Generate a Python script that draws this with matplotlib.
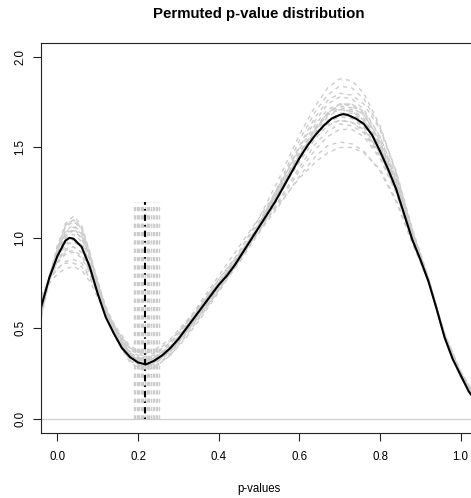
import matplotlib
matplotlib.use('Agg')
import matplotlib.pyplot as plt

plt.rcParams['font.family'] = ['Liberation Sans', 'DejaVu Sans']

# observed density of p-values
obs_x = [-0.04, -0.02, 0.00, 0.02, 0.03, 0.04, 0.06, 0.08, 0.10, 0.12, 0.14,
         0.16, 0.18, 0.20, 0.22, 0.24, 0.26, 0.28, 0.30, 0.32, 0.34,
         0.36, 0.38, 0.40, 0.42, 0.44, 0.46, 0.48, 0.50, 0.52, 0.54,
         0.56, 0.58, 0.60, 0.62, 0.64, 0.66, 0.68, 0.70, 0.71, 0.72, 0.74,
         0.76, 0.78, 0.80, 0.82, 0.84, 0.86, 0.88, 0.90, 0.92, 0.94,
         0.96, 0.98, 1.00, 1.02, 1.04]
observed = [0.62, 0.78, 0.90, 0.985, 1.00, 0.995, 0.95, 0.84, 0.69, 0.56, 0.47,
            0.39, 0.34, 0.31, 0.30, 0.32, 0.35, 0.39, 0.44, 0.50, 0.56,
            0.62, 0.68, 0.74, 0.79, 0.85, 0.92, 0.99, 1.06, 1.13, 1.20,
            1.28, 1.36, 1.44, 1.51, 1.57, 1.62, 1.66, 1.68, 1.685, 1.68, 1.66,
            1.63, 1.57, 1.48, 1.38, 1.27, 1.13, 0.99, 0.88, 0.76, 0.61,
            0.45, 0.33, 0.24, 0.15, 0.09]

# permuted densities
perm_x = [-0.04, -0.02, 0.00, 0.02, 0.04, 0.06, 0.08, 0.10, 0.12, 0.15,
          0.18, 0.21, 0.24, 0.28, 0.32, 0.36, 0.40, 0.45, 0.50, 0.55,
          0.60, 0.64, 0.67, 0.70, 0.73, 0.76, 0.80, 0.84, 0.88, 0.92,
          0.96, 1.00, 1.04]
permuted = [
    [0.58, 0.78, 0.95, 1.08, 1.12, 1.07, 0.92, 0.74, 0.58, 0.42, 0.31, 0.27, 0.28, 0.36, 0.48, 0.61, 0.75, 0.92, 1.11, 1.33, 1.57, 1.73, 1.83, 1.88, 1.87, 1.80, 1.62, 1.36, 1.04, 0.77, 0.45, 0.23, 0.08],
    [0.66, 0.75, 0.80, 0.83, 0.84, 0.82, 0.76, 0.67, 0.58, 0.47, 0.39, 0.36, 0.37, 0.43, 0.53, 0.64, 0.75, 0.88, 1.03, 1.18, 1.34, 1.45, 1.51, 1.53, 1.52, 1.48, 1.37, 1.20, 0.97, 0.76, 0.47, 0.26, 0.11],
    [0.57, 0.77, 0.93, 1.04, 1.07, 1.03, 0.90, 0.75, 0.60, 0.45, 0.33, 0.29, 0.30, 0.37, 0.48, 0.60, 0.72, 0.88, 1.06, 1.26, 1.47, 1.61, 1.69, 1.74, 1.74, 1.69, 1.53, 1.31, 1.02, 0.77, 0.46, 0.24, 0.09],
    [0.63, 0.77, 0.87, 0.93, 0.95, 0.92, 0.83, 0.71, 0.59, 0.46, 0.36, 0.33, 0.34, 0.40, 0.51, 0.63, 0.75, 0.90, 1.07, 1.25, 1.44, 1.57, 1.64, 1.67, 1.66, 1.61, 1.47, 1.26, 0.99, 0.76, 0.46, 0.25, 0.10],
    [0.59, 0.78, 0.94, 1.06, 1.09, 1.05, 0.91, 0.75, 0.59, 0.43, 0.32, 0.29, 0.31, 0.39, 0.51, 0.64, 0.77, 0.92, 1.09, 1.27, 1.46, 1.58, 1.65, 1.68, 1.67, 1.62, 1.47, 1.26, 0.99, 0.76, 0.45, 0.24, 0.09],
    [0.68, 0.77, 0.83, 0.87, 0.88, 0.86, 0.79, 0.70, 0.60, 0.49, 0.40, 0.37, 0.38, 0.44, 0.54, 0.64, 0.75, 0.89, 1.04, 1.20, 1.37, 1.49, 1.56, 1.60, 1.60, 1.56, 1.44, 1.25, 0.99, 0.77, 0.47, 0.26, 0.11],
    [0.61, 0.79, 0.92, 1.01, 1.04, 1.00, 0.88, 0.74, 0.60, 0.45, 0.34, 0.31, 0.31, 0.38, 0.49, 0.61, 0.73, 0.89, 1.07, 1.28, 1.50, 1.65, 1.74, 1.78, 1.77, 1.71, 1.56, 1.33, 1.02, 0.77, 0.45, 0.23, 0.09],
    [0.63, 0.78, 0.89, 0.96, 0.98, 0.95, 0.85, 0.72, 0.60, 0.46, 0.36, 0.33, 0.32, 0.38, 0.48, 0.59, 0.71, 0.86, 1.03, 1.23, 1.45, 1.60, 1.69, 1.74, 1.74, 1.70, 1.56, 1.34, 1.04, 0.78, 0.46, 0.24, 0.09],
    [0.56, 0.76, 0.94, 1.07, 1.10, 1.06, 0.92, 0.76, 0.60, 0.44, 0.32, 0.28, 0.28, 0.35, 0.46, 0.58, 0.71, 0.87, 1.05, 1.25, 1.46, 1.60, 1.68, 1.72, 1.71, 1.66, 1.52, 1.31, 1.01, 0.76, 0.45, 0.23, 0.09],
    [0.65, 0.77, 0.86, 0.91, 0.92, 0.89, 0.81, 0.70, 0.59, 0.47, 0.37, 0.34, 0.35, 0.42, 0.53, 0.65, 0.77, 0.91, 1.05, 1.19, 1.33, 1.42, 1.47, 1.50, 1.50, 1.47, 1.38, 1.21, 0.98, 0.76, 0.47, 0.26, 0.11],
    [0.60, 0.78, 0.91, 1.00, 1.02, 0.98, 0.86, 0.73, 0.59, 0.44, 0.34, 0.32, 0.33, 0.40, 0.51, 0.63, 0.75, 0.90, 1.07, 1.26, 1.45, 1.59, 1.67, 1.71, 1.70, 1.65, 1.51, 1.30, 1.01, 0.76, 0.45, 0.24, 0.09],
    [0.62, 0.78, 0.89, 0.97, 0.99, 0.96, 0.85, 0.72, 0.59, 0.45, 0.35, 0.32, 0.32, 0.39, 0.50, 0.62, 0.74, 0.90, 1.08, 1.29, 1.49, 1.63, 1.71, 1.74, 1.73, 1.68, 1.53, 1.31, 1.01, 0.77, 0.46, 0.24, 0.09],
    [0.67, 0.77, 0.83, 0.86, 0.86, 0.84, 0.78, 0.69, 0.59, 0.48, 0.38, 0.35, 0.34, 0.40, 0.50, 0.61, 0.73, 0.88, 1.05, 1.25, 1.44, 1.57, 1.65, 1.69, 1.69, 1.64, 1.51, 1.30, 1.01, 0.77, 0.46, 0.25, 0.10],
    [0.58, 0.78, 0.96, 1.07, 1.10, 1.05, 0.91, 0.75, 0.60, 0.44, 0.33, 0.30, 0.30, 0.38, 0.50, 0.62, 0.74, 0.88, 1.04, 1.21, 1.39, 1.52, 1.59, 1.63, 1.62, 1.58, 1.45, 1.25, 0.98, 0.76, 0.46, 0.25, 0.10],
    [0.63, 0.78, 0.89, 0.96, 0.98, 0.95, 0.85, 0.72, 0.60, 0.45, 0.35, 0.32, 0.31, 0.37, 0.47, 0.59, 0.72, 0.88, 1.07, 1.29, 1.51, 1.67, 1.76, 1.80, 1.79, 1.74, 1.60, 1.36, 1.04, 0.77, 0.45, 0.23, 0.09],
    [0.61, 0.79, 0.92, 1.02, 1.04, 1.00, 0.88, 0.74, 0.61, 0.46, 0.35, 0.32, 0.33, 0.41, 0.53, 0.66, 0.79, 0.95, 1.11, 1.28, 1.45, 1.57, 1.63, 1.65, 1.64, 1.59, 1.46, 1.26, 0.99, 0.76, 0.45, 0.24, 0.10],
    [0.64, 0.78, 0.88, 0.94, 0.95, 0.92, 0.83, 0.71, 0.59, 0.46, 0.36, 0.33, 0.33, 0.39, 0.49, 0.60, 0.72, 0.87, 1.05, 1.25, 1.46, 1.61, 1.69, 1.73, 1.72, 1.68, 1.54, 1.32, 1.02, 0.77, 0.45, 0.24, 0.10],
    [0.59, 0.77, 0.93, 1.03, 1.06, 1.02, 0.89, 0.74, 0.60, 0.45, 0.33, 0.30, 0.30, 0.37, 0.48, 0.60, 0.73, 0.89, 1.07, 1.27, 1.47, 1.61, 1.68, 1.71, 1.70, 1.65, 1.51, 1.29, 1.00, 0.76, 0.45, 0.24, 0.09],
    [0.60, 0.79, 0.93, 1.02, 1.05, 1.01, 0.90, 0.76, 0.62, 0.47, 0.35, 0.30, 0.29, 0.35, 0.45, 0.57, 0.70, 0.87, 1.07, 1.30, 1.54, 1.70, 1.79, 1.84, 1.83, 1.77, 1.61, 1.37, 1.05, 0.78, 0.46, 0.23, 0.09],
    [0.65, 0.78, 0.87, 0.92, 0.93, 0.90, 0.82, 0.71, 0.60, 0.48, 0.39, 0.36, 0.36, 0.42, 0.52, 0.63, 0.75, 0.90, 1.06, 1.24, 1.42, 1.55, 1.62, 1.65, 1.64, 1.60, 1.47, 1.27, 1.00, 0.77, 0.46, 0.25, 0.10],
]

# thresholds: permuted and observed
perm_cut = [0.190, 0.193, 0.197, 0.200, 0.203, 0.206, 0.210, 0.213, 0.218,
            0.222, 0.225, 0.228, 0.232, 0.236, 0.240, 0.244, 0.248, 0.252]
obs_cut = 0.216
cut_height = 1.2

xticks = [0.0, 0.2, 0.4, 0.6, 0.8, 1.0]
yticks = [0.0, 0.5, 1.0, 1.5, 2.0]

fig = plt.figure(figsize=(4.71, 4.98), dpi=100)
ax = fig.add_axes([0.0877, 0.1305, 0.9246, 0.7838])

for c in perm_cut:
    ax.plot([c, c], [0, cut_height], color='#cccccc', lw=1.0, ls=(0, (3, 3)))
for dens in permuted:
    ax.plot(perm_x, dens, color='#cccccc', lw=1.0, ls=(0, (3, 3)))
ax.axhline(0, color='#cccccc', lw=0.9)
ax.plot(obs_x, observed, color='black', lw=1.5)
ax.plot([obs_cut, obs_cut], [0, cut_height], color='black', lw=1.5,
        ls=(0, (0.7, 2, 3, 2)))

ax.set_xlim(-0.04, 1.04)
ax.set_ylim(-0.08, 2.08)
ax.set_xticks(xticks)
ax.set_xticklabels(['%.1f' % t for t in xticks])
ax.set_yticks(yticks)
ax.set_yticklabels(['%.1f' % t for t in yticks], rotation=90, va='center')
ax.tick_params(length=6, width=0.8, labelsize=8.3, color='#222222')
ax.tick_params(axis='x', pad=7)
ax.tick_params(axis='y', pad=5)
for s in ax.spines.values():
    s.set_linewidth(0.8)
    s.set_color('#222222')

ax.set_xlabel('p-values', fontsize=8.3, labelpad=14)
fig.text(0.549, 1 - 14 / 498, 'Permuted p-value distribution',
         ha='center', va='center', fontsize=10.8, fontweight='bold')

fig.savefig('out.png', dpi=100)
